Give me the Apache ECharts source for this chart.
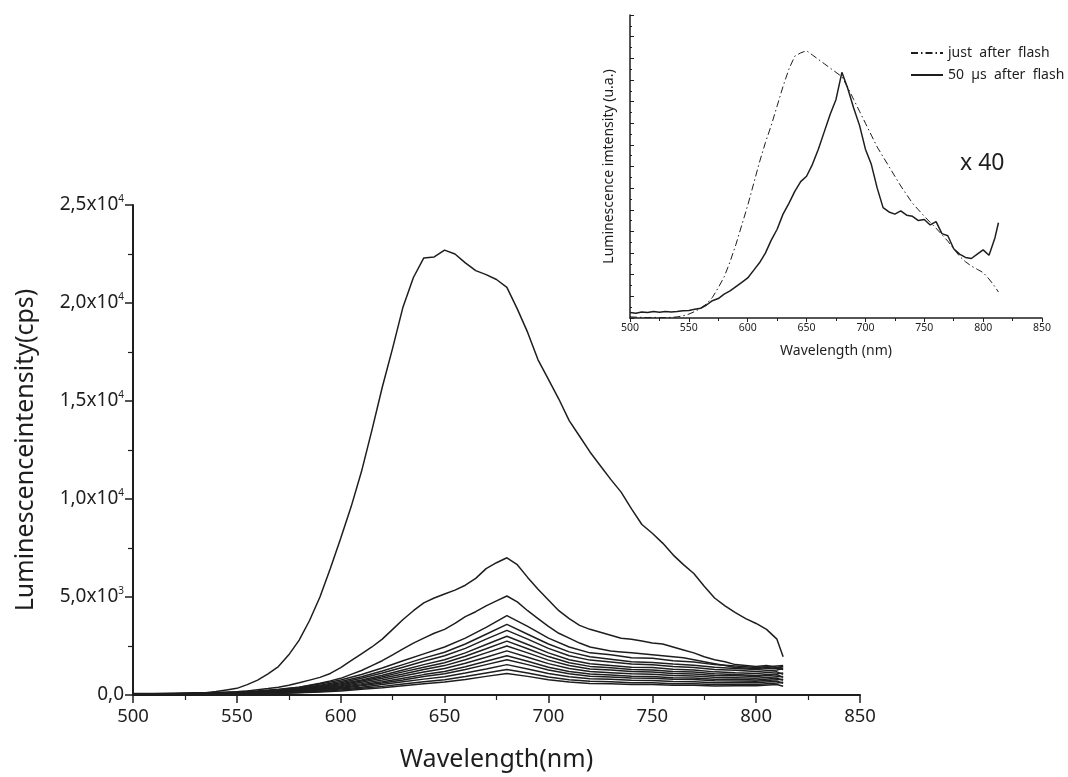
<!DOCTYPE html>
<html><head><meta charset="utf-8">
<script src="https://cdn.jsdelivr.net/npm/echarts@6/dist/echarts.min.js"></script>
<style>html,body{margin:0;padding:0;background:#fff}#c{width:1068px;height:777px}</style>
</head><body><div id="c"></div>
<script>
// ---------- data ----------
const WL5 = [500,505,510,515,520,525,530,535,540,545,550,555,560,565,570,575,580,585,590,595,600,605,610,615,620,625,630,635,640,645,650,655,660,665,670,675,680,685,690,695,700,705,710,715,720,725,730,735,740,745,750,755,760,765,770,775,780,785,790,795,800,805,810,813];
const WL10 = [500,510,520,530,540,550,560,570,580,590,600,610,620,630,640,650,660,670,680,690,700,710,720,730,740,750,760,770,780,790,800,810,813];

// main chart: strongest spectrum (5 nm steps)
const curveMain = [30,20,40,30,50,60,80,120,180,260,340,530,760,1080,1450,2050,2800,3800,5000,6450,8000,9600,11400,13500,15700,17700,19800,21300,22300,22350,22700,22500,22050,21650,21450,21200,20800,19700,18500,17100,16100,15100,14000,13200,12400,11700,11000,10350,9500,8700,8250,7750,7150,6650,6200,5550,4950,4550,4200,3900,3650,3350,2850,1950];
const curve2 = [40,30,50,40,60,50,70,80,100,120,160,210,270,330,400,500,620,760,900,1100,1400,1750,2100,2450,2850,3350,3850,4300,4700,4950,5150,5350,5600,5950,6450,6750,7000,6650,6000,5400,4850,4300,3900,3550,3350,3200,3050,2900,2850,2750,2650,2600,2450,2300,2150,1950,1800,1700,1550,1500,1450,1500,1400,1450];
const curve3 = [30,40,30,50,40,60,60,70,90,100,120,150,180,220,260,330,400,500,600,720,850,1050,1250,1500,1750,2050,2350,2650,2900,3150,3350,3650,4000,4250,4550,4800,5050,4750,4300,3900,3500,3150,2900,2650,2450,2350,2250,2200,2150,2100,2050,2000,1950,1900,1800,1700,1600,1500,1400,1380,1350,1400,1350,1450];
// weaker spectra (10 nm steps)
const curveS1 = [80,70,90,110,130,160,210,290,400,560,770,1050,1380,1750,2100,2450,2900,3450,4050,3500,2900,2450,2150,2050,1900,1870,1750,1680,1550,1480,1400,1480,1500];
const curveS2 = [70,80,70,90,110,140,190,260,360,500,690,930,1220,1550,1880,2180,2600,3100,3600,3100,2600,2200,1950,1830,1700,1660,1580,1520,1420,1350,1300,1380,1300];
const curveS3 = [60,70,80,80,100,130,170,240,330,460,630,850,1120,1420,1720,2000,2380,2850,3300,2850,2380,2000,1780,1680,1580,1540,1450,1400,1300,1260,1200,1280,1350];
const curveS4 = [60,50,70,80,90,120,150,210,300,420,570,770,1010,1280,1550,1800,2150,2580,3000,2580,2150,1800,1600,1510,1420,1400,1320,1280,1180,1130,1100,1180,1050];
const curveS5 = [50,60,60,70,90,110,140,190,270,380,520,710,930,1180,1420,1650,1980,2360,2750,2360,1960,1650,1460,1390,1300,1280,1200,1170,1080,1050,1000,1080,1120];
const curveS6 = [50,50,60,70,80,100,130,170,250,350,470,650,850,1070,1300,1500,1800,2150,2500,2150,1780,1500,1330,1270,1200,1170,1100,1070,1000,980,950,1030,900];
const curveS7 = [40,50,50,60,70,90,110,160,220,310,430,580,760,970,1170,1350,1620,1930,2250,1930,1600,1350,1200,1140,1080,1060,990,970,900,880,850,930,950];
const curveS8 = [40,40,50,50,60,80,100,140,200,280,380,520,680,860,1040,1200,1440,1720,2000,1720,1420,1200,1070,1020,960,950,880,870,800,800,760,850,750];
const curveS9 = [30,40,40,50,60,70,90,130,180,250,340,470,610,770,940,1080,1300,1550,1800,1550,1280,1080,960,920,870,860,800,790,730,720,700,780,800];
const curveS10 = [30,30,40,40,50,60,80,110,150,220,300,400,530,670,810,930,1120,1330,1550,1330,1100,930,830,800,750,740,690,680,630,620,620,700,600];
const curveS11 = [30,30,30,40,40,50,70,90,130,180,250,340,440,560,680,780,940,1120,1300,1120,920,780,700,680,630,630,580,580,530,540,540,610,650];
const curveS12 = [20,30,30,30,40,50,60,80,110,150,210,290,370,470,570,660,790,950,1100,950,780,660,590,580,540,540,500,500,460,470,470,540,450];

// inset (arbitrary units)
const insetJustAfter = [0.05,0.04,0.03,0.02,0.03,0.02,0.02,0.03,0.05,0.1,0.18,0.3,0.45,0.65,0.95,1.4,1.9,2.6,3.4,4.3,5.2,6.2,7.2,8.1,8.9,9.8,10.7,11.5,12.1,12.25,12.35,12.15,11.95,11.75,11.55,11.35,11.15,10.65,10.1,9.55,9.0,8.45,7.9,7.45,7.0,6.55,6.1,5.7,5.3,5.0,4.7,4.42,4.15,3.85,3.55,3.2,2.85,2.6,2.4,2.25,2.1,1.8,1.45,1.2];
const inset50us = [0.25,0.22,0.28,0.25,0.3,0.27,0.3,0.28,0.3,0.33,0.35,0.4,0.45,0.6,0.8,0.9,1.1,1.25,1.45,1.65,1.85,2.2,2.55,3.0,3.6,4.1,4.8,5.3,5.85,6.3,6.55,7.1,7.8,8.6,9.4,10.1,11.35,10.6,9.7,8.9,7.8,7.1,6.0,5.1,4.9,4.8,4.95,4.75,4.7,4.5,4.55,4.3,4.45,3.9,3.8,3.2,2.95,2.8,2.75,2.95,3.15,2.9,3.7,4.4];

const yTickMant = ['0,0','5,0x10','1,0x10','1,5x10','2,0x10','2,5x10'];
const yTickExp  = ['','3','4','4','4','4'];
const legendNames = ['just  after  flash','50  µs  after  flash'];

// ---------- chart ----------
const FONT = 'Noto Sans';
const INK = '#1e1e1e';
const pair = (xs, ys) => xs.map((x, i) => [x, ys[i]]);
const mainSeries = [
  [WL5, curveMain],[WL5, curve2],[WL5, curve3],
  [WL10, curveS1],[WL10, curveS2],[WL10, curveS3],[WL10, curveS4],[WL10, curveS5],[WL10, curveS6],
  [WL10, curveS7],[WL10, curveS8],[WL10, curveS9],[WL10, curveS10],[WL10, curveS11],[WL10, curveS12]
].map(([xs, ys]) => ({
  type: 'line', xAxisIndex: 0, yAxisIndex: 0, data: pair(xs, ys),
  symbol: 'none', silent: true, lineStyle: {color: INK, width: 1.5}, itemStyle: {color: INK}, z: 2
}));

const chart = echarts.init(document.getElementById('c'), null, {renderer: 'canvas'});
chart.setOption({
  animation: false,
  backgroundColor: '#fff',
  textStyle: {fontFamily: FONT, color: INK},
  title: {text: 'x 40', left: 955, top: 147, textStyle: {fontFamily: FONT, fontSize: 23, fontWeight: 'normal', color: INK}},
  legend: {
    data: legendNames, orient: 'vertical', left: 905, top: 41, itemWidth: 32, itemHeight: 10, itemGap: 8,
    itemStyle: {opacity: 0},
    textStyle: {fontFamily: FONT, fontSize: 14, color: INK}, selectedMode: false
  },
  grid: [
    {left: 133, right: 208, top: 205, bottom: 82},
    {left: 630, right: 26, top: 15, bottom: 459}
  ],
  xAxis: [
    {gridIndex: 0, type: 'value', min: 500, max: 850, interval: 50,
     name: 'Wavelength(nm)', nameLocation: 'middle', nameGap: 52,
     nameTextStyle: {fontFamily: FONT, fontSize: 25, color: INK},
     axisLine: {lineStyle: {color: INK, width: 2}},
     axisTick: {length: 8, lineStyle: {width: 1.5}},
     minorTick: {show: true, splitNumber: 2, length: 5, lineStyle: {color: INK, width: 1.2}},
     axisLabel: {fontSize: 18.5, color: INK, margin: 12},
     splitLine: {show: false}},
    {gridIndex: 1, type: 'value', min: 500, max: 850, interval: 50,
     name: 'Wavelength (nm)', nameLocation: 'middle', nameGap: 26,
     nameTextStyle: {fontFamily: FONT, fontSize: 14, color: INK},
     axisLine: {lineStyle: {color: INK, width: 1.5}},
     axisTick: {length: 4, lineStyle: {width: 1}},
     minorTick: {show: true, splitNumber: 2, length: 3, lineStyle: {color: INK}},
     axisLabel: {fontSize: 10.5, color: INK, margin: 5},
     splitLine: {show: false}}
  ],
  yAxis: [
    {gridIndex: 0, type: 'value', min: 0, max: 25000, interval: 5000,
     name: 'Luminescenceintensity(cps)', nameLocation: 'middle', nameGap: 95,
     nameTextStyle: {fontFamily: FONT, fontSize: 25, color: INK},
     axisLine: {show: true, lineStyle: {color: INK, width: 2}},
     axisTick: {show: true, length: 8, lineStyle: {width: 1.5}},
     minorTick: {show: true, splitNumber: 2, length: 5, lineStyle: {color: INK, width: 1.2}},
     axisLabel: {
       margin: 9, color: INK,
       formatter: (v) => { const i = Math.round(v / 5000); return yTickExp[i] ? '{m|' + yTickMant[i] + '}{e|' + yTickExp[i] + '}' : '{m|' + yTickMant[i] + '}'; },
       rich: {m: {fontFamily: FONT, fontSize: 19, color: INK},
              e: {fontFamily: FONT, fontSize: 10, color: INK, padding: [0, 0, 12, 0]}}
     },
     splitLine: {show: false}},
    {gridIndex: 1, type: 'value', min: 0, max: 14, interval: 1,
     name: 'Luminescence imtensity (u.a.)', nameLocation: 'middle', nameGap: 14,
     nameTextStyle: {fontFamily: FONT, fontSize: 14, color: INK},
     axisLine: {show: true, lineStyle: {color: INK, width: 1.5}},
     axisTick: {show: true, inside: true, length: 4, lineStyle: {width: 1}},
     minorTick: {show: true, splitNumber: 2, length: 2, lineStyle: {color: INK}},
     axisLabel: {show: false},
     splitLine: {show: false}}
  ],
  series: mainSeries.concat([
    {name: legendNames[0], type: 'line', xAxisIndex: 1, yAxisIndex: 1, data: pair(WL5, insetJustAfter),
     symbol: 'none', itemStyle: {color: INK}, lineStyle: {color: INK, width: 1, type: [7, 3, 1.5, 3]}},
    {name: legendNames[1], type: 'line', xAxisIndex: 1, yAxisIndex: 1, data: pair(WL5, inset50us),
     symbol: 'none', itemStyle: {color: INK}, lineStyle: {color: INK, width: 1.5}}
  ])
});
</script></body></html>
